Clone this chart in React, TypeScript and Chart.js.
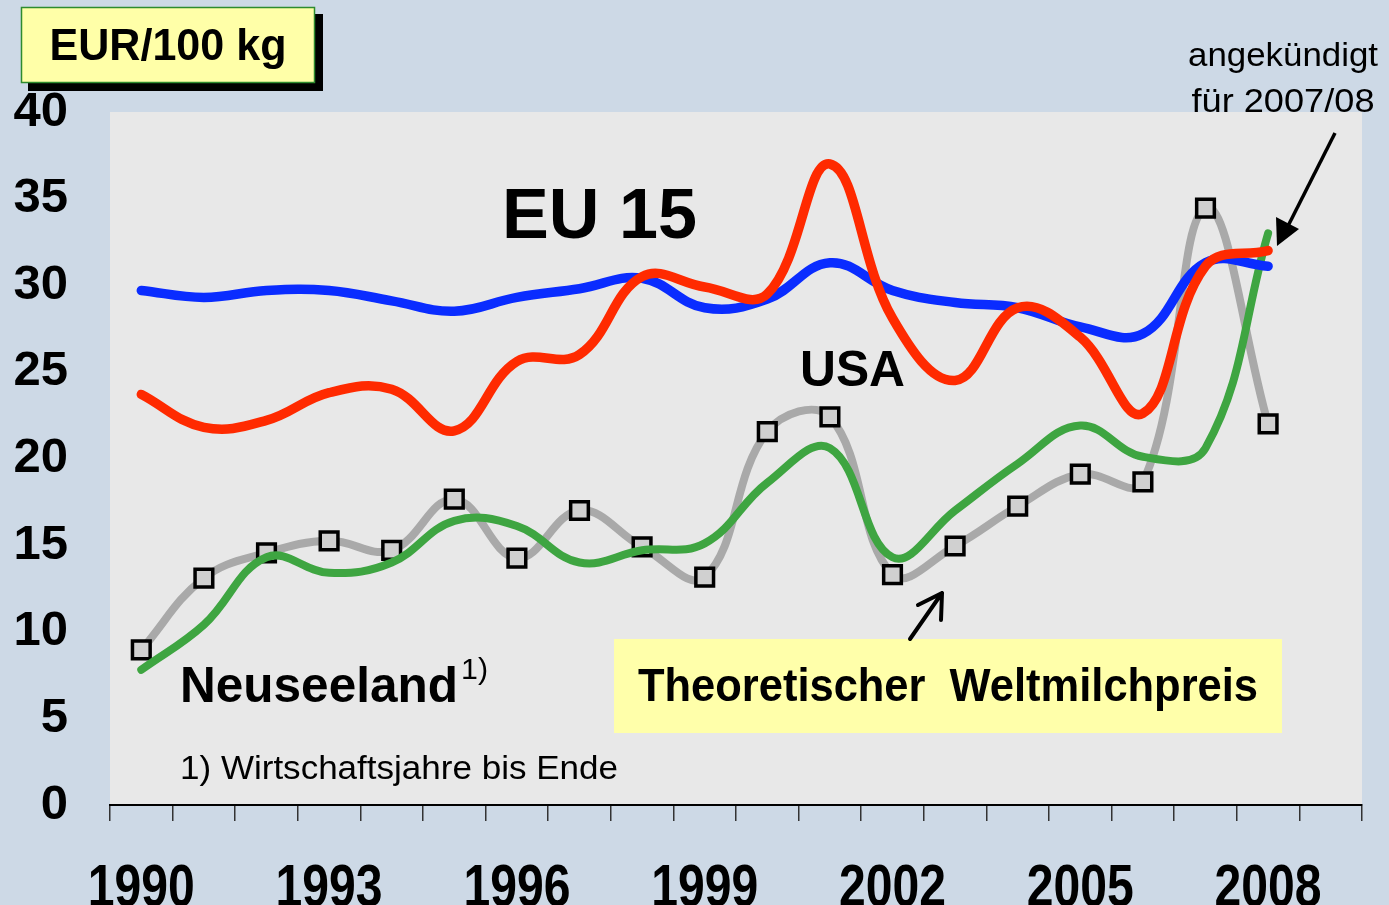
import React, { useEffect, useRef } from "react";
import { Chart, registerables } from "chart.js";

Chart.register(...registerables);

// ---------- data ----------
const years = [
  "1990", "1991", "1992", "1993", "1994", "1995", "1996", "1997", "1998", "1999",
  "2000", "2001", "2002", "2003", "2004", "2005", "2006", "2007", "2008", "2009",
];
const labelledYears = ["1990", "1993", "1996", "1999", "2002", "2005", "2008"];
const yTickValues = [0, 5, 10, 15, 20, 25, 30, 35, 40];

const eu15 = [29.7, 29.3, 29.7, 29.7, 29.1, 28.5, 29.3, 29.8, 30.4, 28.7, 29.2, 31.3, 29.7, 29.0, 28.7, 27.6, 27.2, 31.3, 31.1];
const usa = [23.7, 21.8, 22.2, 23.8, 24.0, 21.6, 25.6, 26.0, 30.5, 29.9, 29.5, 37.0, 28.1, 24.5, 28.7, 27.0, 22.6, 31.1, 32.0];
const neuseeland = [8.95, 13.1, 14.55, 15.25, 14.7, 17.65, 14.25, 17.0, 14.9, 13.15, 21.55, 22.4, 13.3, 14.95, 17.25, 19.1, 18.65, 34.45, 22.0];
const weltmilchpreis = [7.8, 10.4, 14.3, 13.4, 14.0, 16.4, 16.1, 14.0, 14.7, 15.1, 18.6, 20.6, 14.3, 17.0, 19.7, 21.9, 20.1, 20.6, 33.0];

// ---------- style ----------
const W = 1389;
const H = 905;
const PAGE_BG = "#cdd9e6";
const PLOT_BG = "#e8e8e8";
const SANS = "'Liberation Sans', Arial, Helvetica, sans-serif";

function text(
  ctx: CanvasRenderingContext2D,
  s: string,
  x: number,
  y: number,
  font: string,
  align: CanvasTextAlign,
  fitWidth?: number
) {
  ctx.save();
  ctx.font = font;
  ctx.fillStyle = "#000";
  ctx.textBaseline = "alphabetic";
  const m = ctx.measureText(s).width;
  const sx = fitWidth ? fitWidth / m : 1;
  ctx.translate(x, y);
  ctx.scale(sx, 1);
  ctx.textAlign = align;
  ctx.fillText(s, 0, 0);
  ctx.restore();
}

const App = () => {
  const ref = useRef<HTMLCanvasElement>(null);

  useEffect(() => {
    const canvas = ref.current;
    if (!canvas) return;

    const bgPlugin = {
      id: "bgPlugin",
      beforeDraw(chart: any) {
        const { ctx, chartArea: a, width, height } = chart;
        ctx.save();
        ctx.fillStyle = PAGE_BG;
        ctx.fillRect(0, 0, width, height);
        ctx.fillStyle = PLOT_BG;
        ctx.fillRect(a.left, a.top, a.right - a.left, a.bottom - a.top);
        ctx.restore();
      },
    };

    const annotPlugin = {
      id: "annotPlugin",
      afterDraw(chart: any) {
        const ctx: CanvasRenderingContext2D = chart.ctx;
        const xs = chart.scales.x;
        ctx.save();

        // x-axis year labels (tall, condensed bold)
        labelledYears.forEach((yr) => {
          const px = xs.getPixelForValue(years.indexOf(yr));
          text(ctx, yr, px, 906, `bold 60px ${SANS}`, "center", 107);
        });

        // unit box
        ctx.fillStyle = "#000";
        ctx.fillRect(28, 14, 295, 77);
        ctx.fillStyle = "#ffffa8";
        ctx.fillRect(21, 7, 294, 76);
        ctx.strokeStyle = "#2e8b2e";
        ctx.lineWidth = 1.5;
        ctx.strokeRect(21.5, 7.5, 293, 75);
        text(ctx, "EUR/100 kg", 168, 60, `bold 44px ${SANS}`, "center", 237);

        // series labels
        text(ctx, "EU 15", 502, 238, `bold 70px ${SANS}`, "left", 195);
        text(ctx, "USA", 800, 386, `bold 50px ${SANS}`, "left", 105);
        text(ctx, "Neuseeland", 180, 702, `bold 50px ${SANS}`, "left", 278);
        text(ctx, "1)", 461, 679, `30px ${SANS}`, "left", 27);
        text(ctx, "1) Wirtschaftsjahre bis Ende", 180, 779, `34px ${SANS}`, "left", 438);

        // top-right note
        text(ctx, "angekündigt", 1283, 66, `34px ${SANS}`, "center", 190);
        text(ctx, "für 2007/08", 1283, 112, `34px ${SANS}`, "center", 183);

        // arrow to 2008
        ctx.strokeStyle = "#000";
        ctx.fillStyle = "#000";
        ctx.lineWidth = 3.5;
        ctx.lineCap = "butt";
        ctx.beginPath();
        ctx.moveTo(1335, 133);
        ctx.lineTo(1288, 226);
        ctx.stroke();
        ctx.beginPath();
        ctx.moveTo(1277, 246);
        ctx.lineTo(1276, 217);
        ctx.lineTo(1299, 229);
        ctx.closePath();
        ctx.fill();

        // Weltmilchpreis box
        ctx.fillStyle = "#ffffaa";
        ctx.fillRect(614, 639, 668, 94);
        text(ctx, "Theoretischer  Weltmilchpreis", 948, 701, `bold 46px ${SANS}`, "center", 620);

        // small arrow
        ctx.strokeStyle = "#000";
        ctx.lineWidth = 4;
        ctx.lineCap = "round";
        ctx.lineJoin = "round";
        ctx.beginPath();
        ctx.moveTo(910, 639);
        ctx.lineTo(942, 593);
        ctx.moveTo(918, 605);
        ctx.lineTo(942, 593);
        ctx.lineTo(941, 620);
        ctx.stroke();
        ctx.restore();
      },
    };

    const chart = new Chart(canvas, {
      type: "line",
      data: {
        labels: years,
        datasets: [
          {
            label: "USA",
            data: usa,
            borderColor: "#ff2a00",
            borderWidth: 9.5,
            pointRadius: 0,
            tension: 0.4,
            borderCapStyle: "round",
            borderJoinStyle: "round",
            order: 0,
          },
          {
            label: "EU 15",
            data: eu15,
            borderColor: "#0a2cff",
            borderWidth: 9.5,
            pointRadius: 0,
            tension: 0.4,
            borderCapStyle: "round",
            borderJoinStyle: "round",
            order: 1,
          },
          {
            label: "Theoretischer Weltmilchpreis",
            data: weltmilchpreis,
            borderColor: "#3ea541",
            borderWidth: 8,
            pointRadius: 0,
            tension: 0.4,
            borderCapStyle: "round",
            borderJoinStyle: "round",
            order: 2,
          },
          {
            label: "Neuseeland",
            data: neuseeland,
            borderColor: "#a9a9a9",
            borderWidth: 8,
            pointStyle: "rect",
            pointRadius: 12.5,
            pointBackgroundColor: "#d0d0d0",
            pointBorderColor: "#000",
            pointBorderWidth: 3.5,
            tension: 0.4,
            borderCapStyle: "round",
            borderJoinStyle: "round",
            order: 3,
          },
        ],
      } as any,
      options: {
        responsive: false,
        animation: false,
        clip: false as any,
        layout: { padding: { top: 112, right: 27, left: 0, bottom: 0 } },
        plugins: {
          legend: { display: false },
          tooltip: { enabled: false },
          title: { display: false },
        },
        scales: {
          x: {
            type: "category",
            offset: true,
            grid: {
              display: true,
              offset: true,
              drawOnChartArea: false,
              drawTicks: true,
              tickLength: 16,
              color: "#333",
              lineWidth: 1.5,
            },
            border: { display: true, color: "#000", width: 2 },
            ticks: {
              display: false,
              autoSkip: false,
              maxRotation: 0,
              minRotation: 0,
            },
            afterFit: (s: any) => {
              s.height = 100;
            },
          },
          y: {
            min: 0,
            max: 40,
            grid: { display: false, drawTicks: false },
            border: { display: false },
            afterBuildTicks: (s: any) => {
              s.ticks = yTickValues.map((v) => ({ value: v }));
            },
            ticks: {
              padding: 42,
              color: "#000",
              font: { family: SANS, size: 49, weight: "bold" },
            },
            afterFit: (s: any) => {
              s.width = 110;
            },
          },
        },
      } as any,
      plugins: [bgPlugin, annotPlugin],
    });

    return () => chart.destroy();
  }, []);

  return (
    <div
      style={{
        position: "fixed",
        left: 0,
        top: 0,
        width: W,
        height: H,
        background: PAGE_BG,
        overflow: "hidden",
      }}
    >
      <canvas ref={ref} width={W} height={H} style={{ display: "block", width: W, height: H }} />
    </div>
  );
};

export default App;
